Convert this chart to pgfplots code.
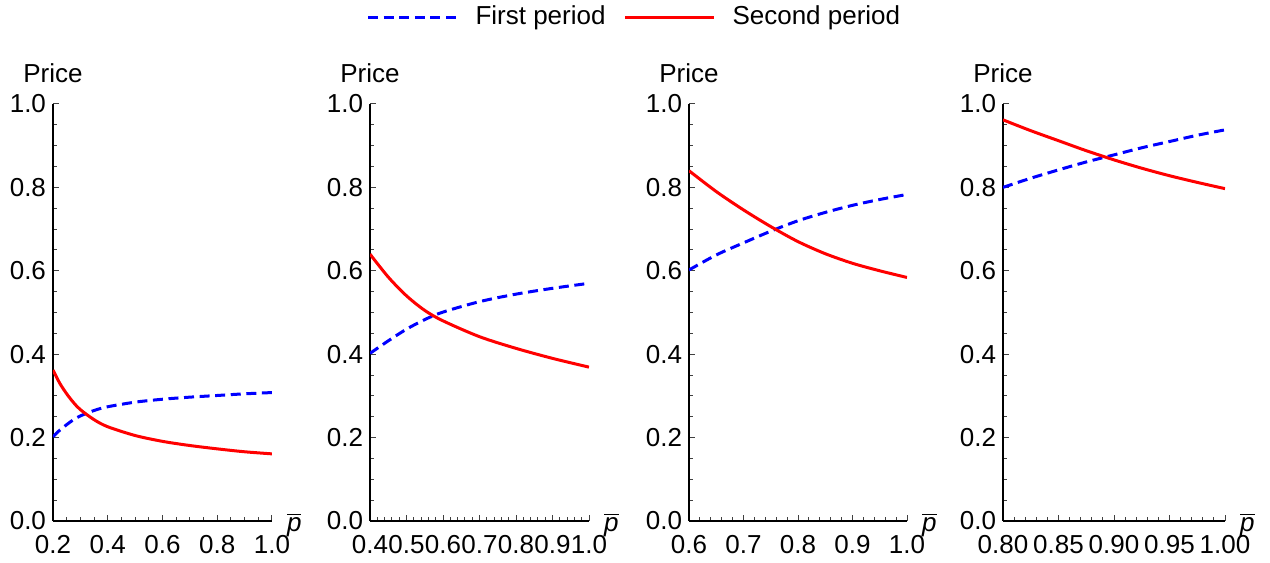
\documentclass[border=0pt]{standalone}
\usepackage{fontspec}
\setmainfont{Liberation Sans}
\usepackage{pgfplots}
\pgfplotsset{compat=1.18}

\definecolor{mblue}{rgb}{0,0,1}
\definecolor{mred}{rgb}{1,0,0}

\pgfplotsset{
  panel/.style={
    scale only axis, height=208.5bp,
    anchor=south west,
    axis x line*=bottom, axis y line*=left,
    axis line style={line width=1bp, black},
    ymin=0, ymax=1, enlargelimits=false,
    ytick={0,0.2,0.4,0.6,0.8,1}, minor y tick num=3,
    tick align=inside,
    major tick length=3bp, minor tick length=1.8bp,
    every tick/.style={black!75, line width=0.5bp},
    font=\fontsize{13bp}{15.5bp}\selectfont,
    /pgf/number format/assume math mode=true,
    yticklabel style={/pgf/number format/.cd, fixed, fixed zerofill, precision=1},
    xticklabel style={yshift=-3.6bp, /pgf/number format/.cd, fixed, fixed zerofill, precision=1},
    every axis y label/.style={at={(axis description cs:0,1)}, anchor=base, yshift=10.8bp},
    every axis x label/.style={at={(axis description cs:1,0)}, anchor=base west, xshift=4bp, yshift=-5bp},
    ylabel={Price},
    xlabel={$\overline{\textit{p}}$},
  },
  first/.style={color=mblue, line width=1.5bp, dash pattern=on 5bp off 2.8bp, smooth},
  second/.style={color=mred, line width=1.5bp, smooth},
}

\begin{document}
\begin{tikzpicture}
\path[use as bounding box] (0,0) rectangle (635bp,281.5bp);

% panel 1
\begin{axis}[panel, at={(26.5bp,21bp)}, width=109.5bp,
  xmin=0.2, xmax=1.0, xtick={0.2,0.4,0.6,0.8,1.0}, minor x tick num=3,
  legend columns=2,
  legend style={at={(1.43,1.2086)}, anchor=west, draw=none, fill=none, inner sep=0pt,
    /tikz/every odd column/.append style={column sep=6.5bp},
    /tikz/every even column/.append style={column sep=7bp}},
  legend image code/.code={\draw[#1] (0bp,0bp) -- (44.5bp,0bp);},
]
\addplot[first] coordinates {
  (0.2,0.202) (0.225,0.218) (0.25,0.231) (0.275,0.243) (0.3,0.252) (0.35,0.265)
  (0.4,0.274) (0.5,0.285) (0.6,0.292) (0.7,0.297) (0.8,0.301) (0.9,0.305) (1.0,0.308)
};
\addlegendentry{First period}
\addplot[second] coordinates {
  (0.2,0.362) (0.225,0.330) (0.25,0.305) (0.275,0.284) (0.3,0.267) (0.35,0.243)
  (0.4,0.226) (0.5,0.205) (0.6,0.191) (0.7,0.181) (0.8,0.173) (0.9,0.166) (1.0,0.161)
};
\addlegendentry{Second period}
\end{axis}

% panel 2
\begin{axis}[panel, at={(185bp,21bp)}, width=109.5bp,
  xmin=0.4, xmax=1.0, xtick={0.4,0.5,0.6,0.7,0.8,0.9,1.0}, minor x tick num=4]
\addplot[first] coordinates {
  (0.4,0.402) (0.45,0.432) (0.5,0.460) (0.55,0.483) (0.6,0.501) (0.7,0.526)
  (0.8,0.544) (0.9,0.558) (1.0,0.570)
};
\addplot[second] coordinates {
  (0.4,0.640) (0.45,0.585) (0.5,0.540) (0.55,0.505) (0.6,0.480) (0.7,0.442)
  (0.8,0.414) (0.9,0.390) (1.0,0.369)
};
\end{axis}

% panel 3
\begin{axis}[panel, at={(344.5bp,21bp)}, width=109bp,
  xmin=0.6, xmax=1.0, xtick={0.6,0.7,0.8,0.9,1.0}, minor x tick num=4]
\addplot[first] coordinates {
  (0.6,0.602) (0.65,0.638) (0.7,0.667) (0.75,0.695) (0.8,0.720) (0.85,0.740)
  (0.9,0.757) (0.95,0.771) (1.0,0.783)
};
\addplot[second] coordinates {
  (0.6,0.840) (0.65,0.790) (0.7,0.746) (0.75,0.706) (0.8,0.670) (0.85,0.641)
  (0.9,0.618) (0.95,0.600) (1.0,0.584)
};
\end{axis}

% panel 4
\begin{axis}[panel, at={(501.5bp,21bp)}, width=111bp,
  xmin=0.8, xmax=1.0, xtick={0.8,0.85,0.9,0.95,1.0}, minor x tick num=4,
  xticklabel style={/pgf/number format/precision=2}]
\addplot[first] coordinates {
  (0.8,0.800) (0.825,0.822) (0.85,0.842) (0.875,0.861) (0.9,0.878) (0.925,0.895)
  (0.95,0.910) (0.975,0.925) (1.0,0.938)
};
\addplot[second] coordinates {
  (0.8,0.962) (0.825,0.936) (0.85,0.912) (0.875,0.888) (0.9,0.866) (0.925,0.846)
  (0.95,0.828) (0.975,0.812) (1.0,0.797)
};
\end{axis}
\end{tikzpicture}
\end{document}
